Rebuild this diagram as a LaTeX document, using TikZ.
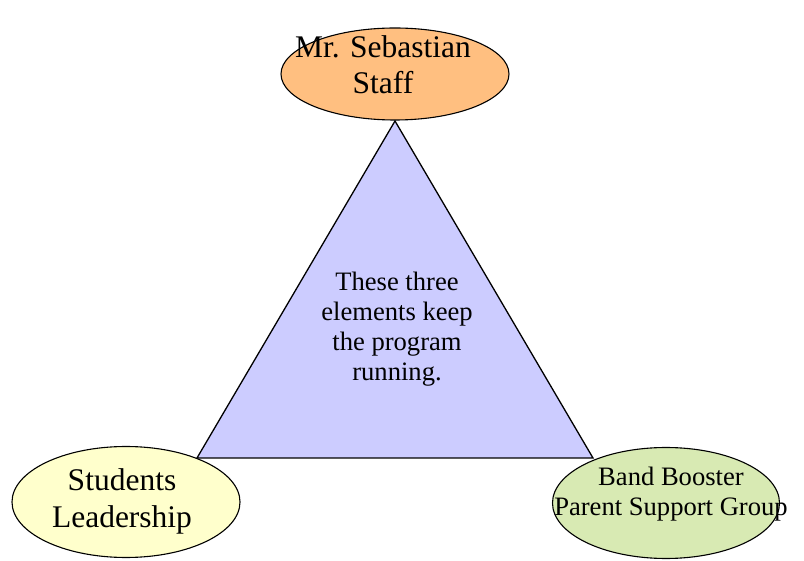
\documentclass[tikz,border=0pt]{standalone}
\usepackage{fontspec}
\setmainfont{Liberation Serif}
\usepackage{tikz}
\usetikzlibrary{shapes.geometric}

\definecolor{staffcol}{HTML}{FFBF80}
\definecolor{studcol}{HTML}{FFFFCC}
\definecolor{boostcol}{HTML}{D8EAB3}
\definecolor{tricol}{HTML}{CCCCFF}

\tikzset{
	oval/.style={draw, ellipse, line width=1.1pt, inner sep=0pt},
	label/.style={align=center, inner sep=0pt}
}

\begin{document}
\begin{tikzpicture}[x=1pt, y=-1pt]
				\useasboundingbox (0,0) rectangle (804,561);
				
				% Triangle
				\coordinate (apex) at (395,121);
				\coordinate (left) at (197,458);
				\coordinate (right) at (593,458);
				\draw[fill=tricol, line width=1.3pt, line join=miter] (apex) -- (left) -- (right) -- cycle;
				\node (center) [label, font=\fontsize{26.6}{30}\selectfont] at (397,329) {These three\\elements keep\\the program\\running.};
				
				% Ellipses
				\node (staff) [oval, fill=staffcol, minimum width=228pt, minimum height=92pt] at (395,74) {};
				\node (students) [oval, fill=studcol, minimum width=228pt, minimum height=111pt] at (126,502) {};
				\node (booster) [oval, fill=boostcol, minimum width=227pt, minimum height=111pt] at (666,503) {};
				
				% Texts
				\node (stafftext) [label, font=\fontsize{31.5}{36}\selectfont] at (383,64.5) {Mr. Sebastian\\Staff};
				\node (studtext) [label, font=\fontsize{31.5}{37}\selectfont] at (122,501) {Students\\Leadership};
				\node (boosttext) [label, font=\fontsize{26.6}{30}\selectfont] at (671,494) {Band Booster\\Parent Support Group};
\end{tikzpicture}
\end{document}
